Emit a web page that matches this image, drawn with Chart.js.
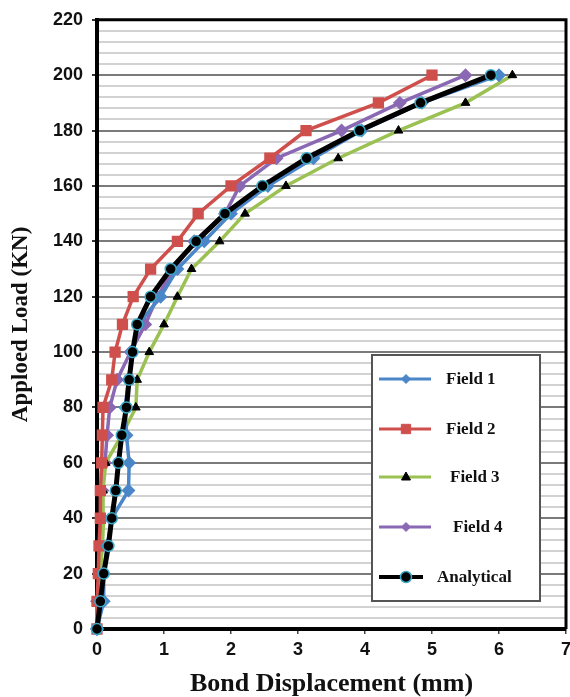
<!DOCTYPE html>
<html>
<head>
<meta charset="utf-8">
<script src="https://cdn.jsdelivr.net/npm/chart.js@4.4.1/dist/chart.umd.min.js"></script>
<style>
  html, body { margin: 0; padding: 0; background: #ffffff; }
  #wrap { width: 570px; height: 697px; }
</style>
</head>
<body>
<div id="wrap"><canvas id="c" width="570" height="697"></canvas></div>
<script>
// Applied load levels (kN)
const loads = [0, 10, 20, 30, 40, 50, 60, 70, 80, 90, 100, 110, 120, 130, 140, 150, 160, 170, 180, 190, 200];
// Bond displacement (mm) per series at each load level
const field1 = [0, 0.1, 0.1, 0.15, 0.22, 0.47, 0.48, 0.44, 0.42, 0.47, 0.53, 0.62, 0.95, 1.2, 1.6, 2.0, 2.55, 3.23, 3.95, 4.85, 6.0];
const field2 = [0, 0, 0.02, 0.03, 0.05, 0.05, 0.07, 0.08, 0.09, 0.22, 0.27, 0.38, 0.54, 0.8, 1.2, 1.51, 2.0, 2.58, 3.12, 4.2, 5.0];
const field3 = [0, 0, 0.05, 0.08, 0.1, 0.09, 0.13, 0.37, 0.58, 0.6, 0.78, 1.0, 1.2, 1.41, 1.83, 2.21, 2.82, 3.6, 4.5, 5.5, 6.2];
const field4 = [0, 0, 0.05, 0.07, 0.08, 0.08, 0.12, 0.15, 0.19, 0.3, 0.5, 0.72, 0.9, 1.15, 1.45, 1.91, 2.13, 2.68, 3.65, 4.52, 5.5];
const analytical = [0, 0.05, 0.1, 0.17, 0.22, 0.28, 0.32, 0.37, 0.44, 0.48, 0.53, 0.6, 0.8, 1.1, 1.48, 1.91, 2.47, 3.13, 3.92, 4.83, 5.88];
const seriesNames = ['Field 1', 'Field 2', 'Field 3', 'Field 4', 'Analytical'];
const xTickValues = [0, 1, 2, 3, 4, 5, 6, 7];
const yLabelStep = 20;

function pts(arr) { return arr.map((v, i) => ({ x: v, y: loads[i] })); }

const datasets = [
  { label: seriesNames[0], data: pts(field1), borderColor: '#4a86c8', backgroundColor: '#4a86c8', borderWidth: 3.5,
    pointStyle: 'rectRot', pointRadius: 4.5, pointBorderColor: '#4a86c8', pointBackgroundColor: '#4a86c8', order: 2 },
  { label: seriesNames[1], data: pts(field2), borderColor: '#cf4f4c', backgroundColor: '#cf4f4c', borderWidth: 3.5,
    pointStyle: 'rect', pointRadius: 5.5, pointBorderColor: '#cf4f4c', pointBackgroundColor: '#cf4f4c', order: 3 },
  { label: seriesNames[2], data: pts(field3), borderColor: '#9bc152', backgroundColor: '#000000', borderWidth: 3.5,
    pointStyle: 'triangle', pointRadius: 5, pointBorderColor: '#000000', pointBackgroundColor: '#000000', pointBorderWidth: 1, order: 4 },
  { label: seriesNames[3], data: pts(field4), borderColor: '#8a68b4', backgroundColor: '#8a68b4', borderWidth: 3.5,
    pointStyle: 'rectRot', pointRadius: 4.5, pointBorderColor: '#8a68b4', pointBackgroundColor: '#8a68b4', order: 5 },
  { label: seriesNames[4], data: pts(analytical), borderColor: '#000000', backgroundColor: '#000000', borderWidth: 5,
    pointStyle: 'circle', pointRadius: 5.5, pointBorderColor: '#3aa9c9', pointBackgroundColor: '#000000', pointBorderWidth: 1.5, order: 1 }
];
datasets.forEach(d => { d.tension = 0; d.clip = 10; d.fill = false; });

function drawMarker(ctx, style, x, y, r, fill, stroke, bw) {
  ctx.save();
  ctx.fillStyle = fill; ctx.strokeStyle = stroke; ctx.lineWidth = bw || 1;
  ctx.beginPath();
  if (style === 'rectRot') {
    ctx.moveTo(x, y - r); ctx.lineTo(x + r, y); ctx.lineTo(x, y + r); ctx.lineTo(x - r, y); ctx.closePath();
  } else if (style === 'rect') {
    const s = r * 0.85; ctx.rect(x - s, y - s, 2 * s, 2 * s);
  } else if (style === 'triangle') {
    ctx.moveTo(x, y - r); ctx.lineTo(x + r * 0.9, y + r * 0.6); ctx.lineTo(x - r * 0.9, y + r * 0.6); ctx.closePath();
  } else {
    ctx.arc(x, y, r, 0, Math.PI * 2);
  }
  ctx.fill(); ctx.stroke();
  ctx.restore();
}

const PLOT_RIGHT = 566;

const frameAndLegend = {
  id: 'frameAndLegend',
  afterLayout(chart) {
    // stretch the plot area to the right edge of the frame
    const a = chart.chartArea;
    const xs = chart.scales.x;
    a.right = PLOT_RIGHT; a.width = PLOT_RIGHT - a.left;
    xs.right = PLOT_RIGHT; xs.width = PLOT_RIGHT - xs.left;
    xs.configure();
    xs._labelItems = null; xs._gridLineItems = null;
    chart.scales.y._gridLineItems = null;
  },
  afterDraw(chart) {
    const { ctx, chartArea: a } = chart;
    ctx.save();
    // top and right frame
    ctx.strokeStyle = '#000'; ctx.lineWidth = 3;
    ctx.beginPath();
    ctx.moveTo(a.left, a.top); ctx.lineTo(a.right, a.top); ctx.lineTo(a.right, a.bottom);
    ctx.stroke();
    // legend box
    const bx = 372, by = 355, bw = 168, bh = 246;
    ctx.fillStyle = '#fff'; ctx.fillRect(bx, by, bw, bh);
    ctx.strokeStyle = '#555'; ctx.lineWidth = 2; ctx.strokeRect(bx, by, bw, bh);
    const rows = [379, 429, 477, 527, 577];
    const textX = [446, 446, 450, 453, 437];
    ctx.font = 'bold 17px "Liberation Serif", "Times New Roman", serif';
    ctx.textBaseline = 'middle'; ctx.textAlign = 'left';
    chart.data.datasets.forEach((d, i) => {
      const y = rows[i];
      const x1 = 379, x2 = (i === 4) ? 423 : 431;
      ctx.strokeStyle = d.borderColor; ctx.lineWidth = (i === 4) ? 4 : 3;
      ctx.beginPath(); ctx.moveTo(x1, y); ctx.lineTo(x2, y); ctx.stroke();
      drawMarker(ctx, d.pointStyle, 406, y, d.pointRadius, d.pointBackgroundColor, d.pointBorderColor, d.pointBorderWidth);
      ctx.fillStyle = '#111';
      ctx.fillText(d.label, textX[i], y + 1);
    });
    ctx.restore();
  }
};

new Chart(document.getElementById('c'), {
  type: 'line',
  data: { datasets },
  plugins: [frameAndLegend],
  options: {
    responsive: false,
    animation: false,
    layout: { padding: { top: 17, right: 4, left: 0, bottom: 0 } },
    plugins: { legend: { display: false }, tooltip: { enabled: false } },
    scales: {
      x: {
        type: 'linear', min: 0, max: 7,
        afterFit: s => { s.height = 68; },
        afterBuildTicks: s => { s.ticks = xTickValues.map(v => ({ value: v })); },
        ticks: { stepSize: 1, padding: 5, color: '#111', font: { family: '"Liberation Sans", Arial, sans-serif', size: 18, weight: 'bold' } },
        grid: { display: true, drawOnChartArea: false, drawTicks: true, tickLength: 5, tickColor: '#444', lineWidth: 1.5 },
        border: { display: true, color: '#000', width: 4 },
        title: { display: true, text: 'Bond Displacement (mm)', color: '#111', padding: { top: 0, bottom: 0 },
          font: { family: '"Liberation Serif", "Times New Roman", serif', size: 26, weight: 'bold', lineHeight: 1.0 } }
      },
      y: {
        type: 'linear', min: 0, max: 220,
        afterFit: s => { s.width = 97; },
        ticks: { stepSize: 4, autoSkip: false, padding: 9, color: '#111',
          callback: v => (Math.round(v) % yLabelStep === 0 ? String(Math.round(v)) : ''),
          font: { family: '"Liberation Sans", Arial, sans-serif', size: 18, weight: 'bold' } },
        grid: {
          drawTicks: true, tickLength: 5,
          color: c => (Math.round(c.tick.value) % yLabelStep === 0 ? '#7a7a7a' : '#d2d2d2'),
          lineWidth: 2,
          tickColor: c => (Math.round(c.tick.value) % yLabelStep === 0 ? '#333' : 'rgba(0,0,0,0)')
        },
        border: { display: true, color: '#000', width: 4 },
        title: { display: true, text: 'Apploed Load (KN)', color: '#111', padding: { top: 10, bottom: 0 },
          font: { family: '"Liberation Serif", "Times New Roman", serif', size: 23, weight: 'bold', lineHeight: 1.0 } }
      }
    }
  }
});
</script>
</body>
</html>
